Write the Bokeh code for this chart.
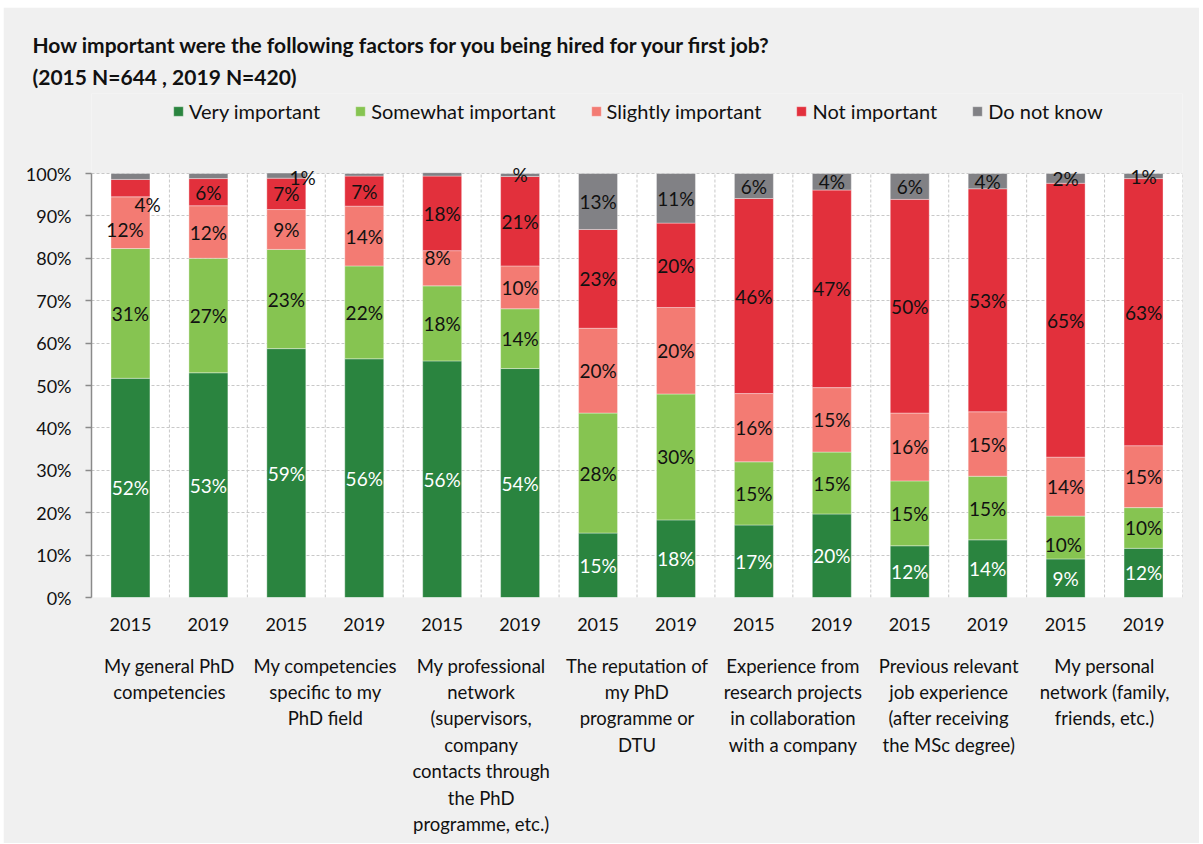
from bokeh.plotting import figure
from bokeh.layouts import column, row
from bokeh.models import (ColumnDataSource, Range1d, LinearAxis, FixedTicker, Spacer,
                          NumeralTickFormatter, Legend, LegendItem, Title)
from bokeh.core.properties import value
from bokeh.embed import file_html
from bokeh.resources import INLINE

# ---------------- data ----------------
title_lines = ["How important were the following factors for you being hired for your first job?",
               "(2015 N=644 , 2019 N=420)"]
groups = [
    "My general PhD\ncompetencies",
    "My competencies\nspecific to my\nPhD field",
    "My professional\nnetwork\n(supervisors,\ncompany\ncontacts through\nthe PhD\nprogramme, etc.)",
    "The reputation of\nmy PhD\nprogramme or\nDTU",
    "Experience from\nresearch projects\nin collaboration\nwith a company",
    "Previous relevant\njob experience\n(after receiving\nthe MSc degree)",
    "My personal\nnetwork (family,\nfriends, etc.)",
]
years = ["2015", "2019"]
series_names = ["Very important", "Somewhat important", "Slightly important",
                "Not important", "Do not know"]

very_important = [51.7, 53.0, 58.7, 56.3, 55.8, 54.0, 15.2, 18.3, 17.1, 19.7, 12.2, 13.6, 9.1, 11.6]
somewhat_important = [30.6, 27.0, 23.4, 21.9, 17.7, 14.1, 28.3, 29.7, 14.9, 14.6, 15.3, 15.0, 10.1, 9.6]
slightly_important = [12.2, 12.4, 9.4, 14.1, 8.3, 10.1, 20.0, 20.4, 16.1, 15.2, 16.0, 15.2, 13.9, 14.6]
not_important = [4.1, 6.4, 7.4, 7.1, 17.6, 21.1, 23.3, 19.9, 46.0, 46.6, 50.4, 52.6, 64.6, 63.0]
do_not_know = [1.4, 1.2, 1.2, 0.6, 0.8, 0.7, 13.2, 11.7, 5.9, 3.9, 6.1, 3.6, 2.3, 1.2]

# which "Do not know" labels are printed in the source chart, and how
dk_label_text = ["", "", "1%", "", "", "%", "13%", "11%", "6%", "4%", "6%", "4%", "2%", "1%"]

colors = ["#2a843f", "#86c451", "#f37b73", "#e2303c", "#818185"]
label_colors = ["white", "#111111", "#111111", "#111111", "#111111"]

# ---------------- build sources ----------------
n = len(very_important)
xs = [i + 0.5 for i in range(n)]
series = [very_important, somewhat_important, slightly_important, not_important, do_not_know]
keys = ["s0", "s1", "s2", "s3", "s4"]
bar_data = {"x": xs}
for k, s in zip(keys, series):
    bar_data[k] = [v / 100 for v in s]
bar_src = ColumnDataSource(bar_data)

# manual nudges of a few labels, as placed in the source chart (bar, series) -> (dx, dy%)
nudges = {(0, 3): (0.22, -3.8), (0, 2): (-0.07, -1.6), (2, 4): (0.21, -0.4),
          (4, 2): (-0.06, 2.5), (12, 1): (-0.03, -1.6)}

lx, ly, lt, lc = [], [], [], []
for i in range(n):
    bottom = 0.0
    for j, s in enumerate(series):
        v = s[i]
        top = bottom + v
        if j == 4:
            txt = dk_label_text[i]
        else:
            txt = f"{v:.0f}%"
        if txt:
            dx, dy = nudges.get((i, j), (0.0, 0.0))
            lx.append(xs[i] + dx)
            ly.append(((bottom + top) / 2 + dy) / 100)
            lt.append(txt)
            lc.append(label_colors[j])
        bottom = top
lab_src = ColumnDataSource(dict(x=lx, y=ly, text=lt, color=lc))

FONT = "Lato"
FS = "18px"
BG = "#f0f0f0"
GRID = "#c8c8c8"
W, H = 1196, 836
FRAME_TOP, PLOT_TOP, PLOT_BOTTOM = 86, 166, 590   # canvas pixels
FRAME_LEFT, FRAME_RIGHT = 88, 1179
YMAX = (PLOT_BOTTOM - FRAME_TOP) / (PLOT_BOTTOM - PLOT_TOP)   # frame reaches above 100% to host legend

p = figure(width=W, height=H,
           x_range=Range1d(0, n), y_range=Range1d(0, YMAX),
           x_axis_location=None, y_axis_location="left",
           output_backend="svg", toolbar_location=None,
           min_border_left=FRAME_LEFT, min_border_right=W - FRAME_RIGHT,
           min_border_top=FRAME_TOP, min_border_bottom=H - PLOT_BOTTOM,
           background_fill_color=BG, border_fill_color=BG,
           outline_line_color=None)
p.xgrid.visible = False

# white plotting area (0..100%)
p.quad(left=[0], right=[n], bottom=[0], top=[1], fill_color="white", line_color=None, level="image")
# vertical dashed separators between bars
p.segment(x0=list(range(n + 1)), y0=[0] * (n + 1), x1=list(range(n + 1)), y1=[1] * (n + 1),
          line_color=GRID, line_dash="3 2", line_width=1)

renderers = p.vbar_stack(keys, x="x", width=0.5, source=bar_src, color=colors,
                         line_color="white", line_width=0.6, line_alpha=0.6)

p.text(x="x", y="y", text="text", source=lab_src, text_color="color",
       text_align="center", text_baseline="middle",
       text_font=value(FONT), text_font_size="19px")

# y axis
yax = p.yaxis[0]
yax.ticker = FixedTicker(ticks=[i / 10 for i in range(11)])
yax.formatter = NumeralTickFormatter(format="0%")
yax.bounds = (0, 1)
yax.major_label_text_font = FONT
yax.major_label_text_font_size = FS
yax.major_label_text_color = "#111111"
yax.axis_line_color = "#8a8a8a"
yax.axis_line_width = 1.5
yax.major_tick_line_color = "#8a8a8a"
yax.major_tick_line_width = 1.5
yax.major_tick_out = 6
yax.major_tick_in = 0
yax.minor_tick_line_color = None
yax.major_label_standoff = 14

p.ygrid.grid_line_color = GRID
p.ygrid.grid_line_dash = "3 2"
p.ygrid.ticker = yax.ticker

# x axes: years and groups
year_ax = LinearAxis(ticker=FixedTicker(ticks=xs),
                     major_label_overrides={x: years[i % 2] for i, x in enumerate(xs)},
                     axis_line_color=None, major_tick_line_color=None,
                     minor_tick_line_color=None, major_tick_out=0, major_tick_in=0,
                     major_label_standoff=20, major_label_text_font=FONT,
                     major_label_text_font_size=FS, major_label_text_color="#111111")
p.add_layout(year_ax, "below")
gticks = [2 * g + 1 for g in range(len(groups))]
group_ax = LinearAxis(ticker=FixedTicker(ticks=gticks),
                      major_label_overrides={t: groups[g] for g, t in enumerate(gticks)},
                      axis_line_color=None, major_tick_line_color=None,
                      minor_tick_line_color=None, major_tick_out=0, major_tick_in=0,
                      major_label_standoff=21, major_label_text_font=FONT,
                      major_label_text_font_size="18.5px", major_label_text_color="#111111")
p.add_layout(group_ax, "below")

# legend inside the (extended) frame, above the 100% line
legend = Legend(items=[LegendItem(label=nm, renderers=[r]) for nm, r in zip(series_names, renderers)],
                orientation="horizontal", location=(81, PLOT_BOTTOM - 116),
                label_text_font=FONT, label_text_font_size="20px", label_text_color="#111111",
                glyph_width=12, glyph_height=12, label_standoff=5, spacing=34,
                padding=0, margin=0, background_fill_alpha=0, border_line_color=None)
p.add_layout(legend, "center")

# titles (stacked upward from the frame)
p.add_layout(Title(text=title_lines[1], text_font=FONT, text_font_size="21px",
                   text_font_style="bold", align="left", offset=-59, standoff=10,
                   text_color="#111111"), "above")
p.add_layout(Title(text=title_lines[0], text_font=FONT, text_font_size="21px",
                   text_font_style="bold", align="left", offset=-59, standoff=0,
                   text_color="#111111"), "above")

layout = column(Spacer(height=7), row(Spacer(width=3), p))
open("out.html", "w").write(file_html(layout, INLINE))
